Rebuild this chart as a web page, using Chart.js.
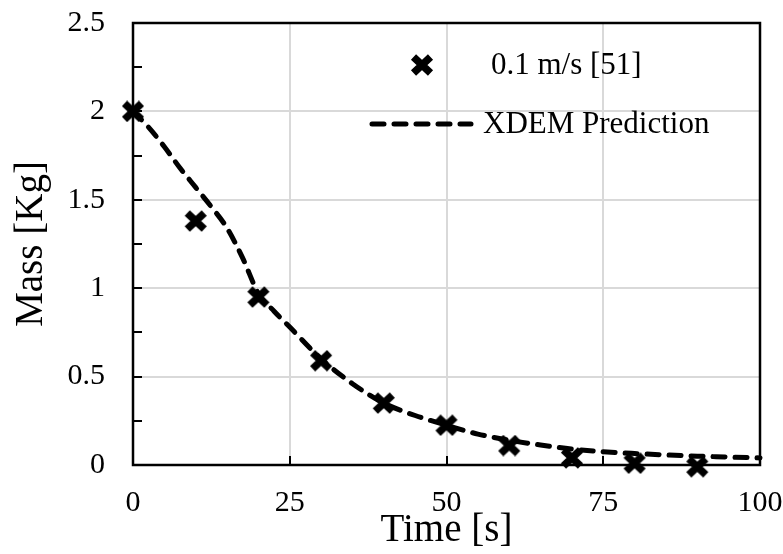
<!DOCTYPE html>
<html>
<head>
<meta charset="utf-8">
<script src="https://cdn.jsdelivr.net/npm/chart.js@4.4.1/dist/chart.umd.min.js"></script>
<style>
  html, body { margin: 0; padding: 0; background: #ffffff; }
  #wrap { width: 783px; height: 554px; position: relative; }
</style>
</head>
<body>
<div id="wrap"><canvas id="c" width="783" height="554"></canvas></div>
<script>
// ---- data ----
const timeExp  = [0, 10, 20, 30, 40, 50, 60, 70, 80, 90];
const massExp  = [2.0, 1.38, 0.95, 0.59, 0.35, 0.225, 0.11, 0.04, 0.01, -0.01];
const timePred = [0, 2.5, 5, 7.5, 10, 12.5, 15, 17.5, 20, 22.5, 25, 30, 35, 40, 45, 50, 55, 60, 65, 70, 75, 80, 85, 90, 95, 100];
const massPred = [2.0, 1.91, 1.80, 1.68, 1.57, 1.46, 1.34, 1.17, 0.97, 0.87, 0.78, 0.60, 0.46, 0.35, 0.28, 0.225, 0.175, 0.14, 0.113, 0.09, 0.075, 0.065, 0.057, 0.05, 0.045, 0.04];
const xTicks = [0, 25, 50, 75, 100];
const yTicks = [0, 0.5, 1, 1.5, 2, 2.5];
const seriesNames = ['0.1 m/s [51]', 'XDEM Prediction'];
const xTitle = 'Time [s]';
const yTitle = 'Mass [Kg]';

const FONT = '"Liberation Serif", "Times New Roman", serif';

// thick X marker
function makeMarker() {
  const c = document.createElement('canvas');
  c.width = 24; c.height = 22;
  const g = c.getContext('2d');
  g.strokeStyle = '#000';
  g.lineWidth = 7.5;
  g.lineCap = 'butt';
  g.beginPath();
  g.moveTo(3.5, 3); g.lineTo(20.5, 19);
  g.moveTo(20.5, 3); g.lineTo(3.5, 19);
  g.stroke();
  return c;
}
const marker = makeMarker();

const framePlugin = {
  id: 'frame',
  beforeDatasetsDraw(chart) {
    const { ctx, chartArea: a, scales } = chart;
    ctx.save();
    ctx.strokeStyle = '#000';
    ctx.lineWidth = 2.5;
    ctx.strokeRect(a.left, a.top, a.right - a.left, a.bottom - a.top);
    // inner tick marks
    ctx.lineWidth = 2;
    ctx.beginPath();
    for (let v = 0.25; v < 2.5; v += 0.25) {
      const y = Math.round(scales.y.getPixelForValue(v));
      ctx.moveTo(a.left, y); ctx.lineTo(a.left + 9, y);
    }
    for (let v = 25; v < 100; v += 25) {
      const x = Math.round(scales.x.getPixelForValue(v));
      ctx.moveTo(x, a.bottom); ctx.lineTo(x, a.bottom - 9);
    }
    ctx.stroke();
    ctx.restore();
  },
  afterDraw(chart) {
    const { ctx } = chart;
    ctx.save();
    ctx.fillStyle = '#000';
    ctx.font = '31px ' + FONT;
    ctx.textBaseline = 'middle';
    ctx.textAlign = 'left';
    // entry 1
    ctx.drawImage(marker, 422 - 12, 65 - 11);
    ctx.fillText(seriesNames[0], 491, 66);
    // entry 2
    ctx.strokeStyle = '#000';
    ctx.lineWidth = 5;
    ctx.lineCap = 'round';
    ctx.setLineDash([12, 10]);
    ctx.beginPath();
    ctx.moveTo(372, 124); ctx.lineTo(471, 124);
    ctx.stroke();
    ctx.setLineDash([]);
    ctx.fillText(seriesNames[1], 483, 125);
    ctx.restore();
  }
};

new Chart(document.getElementById('c'), {
  type: 'scatter',
  data: {
    datasets: [
      {
        label: seriesNames[1],
        type: 'line',
        data: timePred.map((t, i) => ({ x: t, y: massPred[i] })),
        borderColor: '#000',
        borderWidth: 5,
        borderDash: [12, 10],
        borderCapStyle: 'round',
        pointRadius: 0,
        fill: false,
        cubicInterpolationMode: 'monotone',
        clip: false,
        order: 2
      },
      {
        label: seriesNames[0],
        data: timeExp.map((t, i) => ({ x: t, y: massExp[i] })),
        pointStyle: marker,
        pointRadius: 11,
        clip: false,
        order: 1
      }
    ]
  },
  options: {
    responsive: false,
    animation: false,
    layout: { padding: { left: 0, right: 23, top: 23, bottom: 0 } },
    plugins: {
      legend: { display: false },
      tooltip: { enabled: false }
    },
    scales: {
      x: {
        type: 'linear',
        min: 0, max: 100,
        afterBuildTicks: s => { s.ticks = xTicks.map(v => ({ value: v })); },
        ticks: { font: { family: FONT, size: 30 }, color: '#000', padding: 20, maxRotation: 0 },
        grid: {
          color: c => (c.tick && (c.tick.value === 0 || c.tick.value === 100)) ? 'rgba(0,0,0,0)' : '#d9d9d9',
          lineWidth: 2, drawTicks: false
        },
        border: { display: false },
        title: { display: true, text: xTitle, color: '#000', font: { family: FONT, size: 39 }, padding: { top: -8, bottom: 0 } },
        afterFit: s => { s.height = 89; s.paddingLeft = 0; s.paddingRight = 0; }
      },
      y: {
        type: 'linear',
        min: 0, max: 2.5,
        afterBuildTicks: s => { s.ticks = yTicks.map(v => ({ value: v })); },
        ticks: { font: { family: FONT, size: 30 }, color: '#000', padding: 28, callback: v => String(v) },
        grid: {
          color: c => (c.tick && (c.tick.value === 0 || c.tick.value === 2.5)) ? 'rgba(0,0,0,0)' : '#d9d9d9',
          lineWidth: 2, drawTicks: false
        },
        border: { display: false },
        title: { display: true, text: yTitle, color: '#000', font: { family: FONT, size: 39 }, padding: { top: 8, bottom: 4 } },
        afterFit: s => { s.width = 133; s.paddingTop = 0; s.paddingBottom = 0; }
      }
    }
  },
  plugins: [framePlugin]
});
</script>
</body>
</html>
